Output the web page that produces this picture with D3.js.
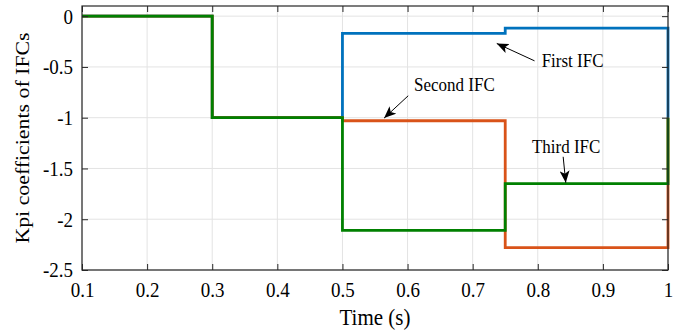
<!DOCTYPE html>
<html>
<head>
<meta charset="utf-8">
<script src="https://cdn.jsdelivr.net/npm/d3@7"></script>
<style>
    body { margin: 0; background: #fff; }
    svg text { font-family: "Liberation Serif", "Times New Roman", serif; fill: #000; }
    /* the reference figure is a bit taller than wide, text looks stretched */
    .stretch { transform-box: fill-box; transform-origin: center; transform: scaleY(1.12); }
</style>
</head>
<body>
<svg id="chart" width="687" height="333"></svg>
<script>
// step breakpoints (s) and Kpi value held from each one
const times = [0.1, 0.3, 0.5, 0.75, 1.0];
const firstIFC  = [0, -1, -0.17, -0.118, -1];
const secondIFC = [0, -1, -1.03, -2.28, -1];
const thirdIFC  = [0, -1, -2.11, -1.65, -1];

const xTicks = [0.1, 0.2, 0.3, 0.4, 0.5, 0.6, 0.7, 0.8, 0.9, 1];
const yTicks = [0, -0.5, -1, -1.5, -2, -2.5];

const series = [
    { name: "First IFC",  values: firstIFC,  color: "#0072BD" },
    { name: "Second IFC", values: secondIFC, color: "#D95319" },
    { name: "Third IFC",  values: thirdIFC,  color: "#008000" }
];

// annotation: text anchor + arrow (from -> tip), data coords
const notes = [
    { label: "First IFC",  tx: 0.806, ty: -0.499, x1: 0.795, y1: -0.44,  x2: 0.737, y2: -0.269 },
    { label: "Second IFC", tx: 0.610, ty: -0.735, x1: 0.601, y1: -0.784, x2: 0.564, y2: -1.004 },
    { label: "Third IFC",  tx: 0.791, ty: -1.342, x1: 0.839, y1: -1.385, x2: 0.843, y2: -1.641 }
];

const M = { left: 82, right: 19, top: 6, bottom: 63 };
const W = 687, H = 333;
const svg = d3.select("#chart");

const x = d3.scaleLinear().domain([0.1, 1]).range([M.left, W - M.right]);
const y = d3.scaleLinear().domain([-2.5, 0.1]).range([H - M.bottom, M.top]);

const x0 = x.range()[0], x1 = x.range()[1];
const yTop = y.range()[1], yBot = y.range()[0];

// matlab style labels: plain hyphen, no unicode minus
const fmt = d => String(d);
const serif = "'Liberation Serif', 'Times New Roman', serif";

// grid
svg.append("g")
    .selectAll("line.gx").data(xTicks).join("line")
    .attr("x1", d => x(d)).attr("x2", d => x(d))
    .attr("y1", yTop).attr("y2", yBot)
    .attr("stroke", "#e3e3e3").attr("stroke-width", 1);
svg.append("g")
    .selectAll("line.gy").data(yTicks).join("line")
    .attr("x1", x0).attr("x2", x1)
    .attr("y1", d => y(d)).attr("y2", d => y(d))
    .attr("stroke", "#e3e3e3").attr("stroke-width", 1);

// lines
const line = d3.line()
    .x(d => x(d[0]))
    .y(d => y(d[1]))
    .curve(d3.curveStepAfter);

svg.append("g")
    .selectAll("path").data(series).join("path")
    .attr("d", s => line(times.map((t, i) => [t, s.values[i]])))
    .attr("fill", "none")
    .attr("stroke", s => s.color)
    .attr("stroke-width", 2.8);

// axes, ticks inward on all four sides
const tickLen = 6;
const axisColor = "#262626";

svg.append("g").attr("transform", `translate(0,${yBot})`)
    .call(d3.axisBottom(x).tickValues(xTicks).tickSize(-tickLen).tickPadding(12.5)
        .tickFormat(fmt))
    .call(g => g.select(".domain").remove());
svg.append("g").attr("transform", `translate(0,${yTop})`)
    .call(d3.axisTop(x).tickValues(xTicks).tickSize(-tickLen).tickFormat(""))
    .call(g => g.select(".domain").remove());
svg.append("g").attr("transform", `translate(${x0},0)`)
    .call(d3.axisLeft(y).tickValues(yTicks).tickSize(-tickLen).tickPadding(9)
        .tickFormat(fmt))
    .call(g => g.select(".domain").remove());
svg.append("g").attr("transform", `translate(${x1},0)`)
    .call(d3.axisRight(y).tickValues(yTicks).tickSize(-tickLen).tickFormat(""))
    .call(g => g.select(".domain").remove());

svg.selectAll("g.tick").attr("font-family", serif);
svg.selectAll(".tick line").attr("stroke", axisColor);
svg.selectAll(".tick text")
    .attr("class", "stretch")
    .style("font-family", serif)
    .style("font-size", "19px")
    .attr("fill", "#000");

svg.append("rect")
    .attr("x", x0).attr("y", yTop)
    .attr("width", x1 - x0).attr("height", yBot - yTop)
    .attr("fill", "none").attr("stroke", axisColor).attr("stroke-width", 1.2);

// axis titles
svg.append("text")
    .attr("class", "stretch")
    .attr("x", (x0 + x1) / 2).attr("y", 324)
    .attr("text-anchor", "middle")
    .style("font-size", "21px")
    .text("Time (s)");
svg.append("text")
    .attr("transform", `translate(29,${(yTop + yBot) / 2}) rotate(-90) scale(1.12,1)`)
    .attr("text-anchor", "middle")
    .style("font-size", "19.5px")
    .text("Kpi coefficients of IFCs");

// annotations
svg.append("defs").append("marker")
    .attr("id", "head")
    .attr("viewBox", "0 0 12 10")
    .attr("refX", 12).attr("refY", 5)
    .attr("markerWidth", 12).attr("markerHeight", 10)
    .attr("markerUnits", "userSpaceOnUse")
    .attr("orient", "auto")
    .append("path")
    .attr("d", "M0,0 L12,5 L0,10 L3,5 Z")
    .attr("fill", "#000");

const ann = svg.append("g");
ann.selectAll("line").data(notes).join("line")
    .attr("x1", d => x(d.x1)).attr("y1", d => y(d.y1))
    .attr("x2", d => x(d.x2)).attr("y2", d => y(d.y2))
    .attr("stroke", "#000").attr("stroke-width", 1)
    .attr("marker-end", "url(#head)");
ann.selectAll("text").data(notes).join("text")
    .attr("class", "stretch")
    .attr("x", d => x(d.tx)).attr("y", d => y(d.ty))
    .style("font-size", "17px")
    .text(d => d.label);
</script>
</body>
</html>
